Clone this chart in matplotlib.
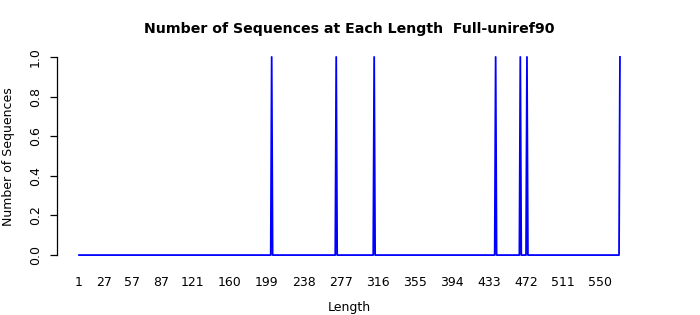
import numpy as np
import matplotlib
matplotlib.use("Agg")
import matplotlib.pyplot as plt

# data: one sequence at each of these lengths
spike_lengths = [204, 272, 312, 440, 466, 473, 571]
max_length = 571
tick_labels = [1, 27, 57, 87, 121, 160, 199, 238, 277, 316, 355, 394, 433, 472, 511, 550]
y_ticks = [0.0, 0.2, 0.4, 0.6, 0.8, 1.0]

lengths = np.arange(1, max_length + 1)
counts = np.zeros(len(lengths))
counts[np.array(spike_lengths) - 1] = 1

fig = plt.figure(figsize=(7.0, 3.15), dpi=100)
ax = fig.add_axes([57.4 / 700, 1 - 263 / 315, (641.6 - 57.4) / 700, (263 - 49) / 315])

ax.plot(lengths, counts, color="#0000ff", lw=1.3)

# R-style padding of 4% each side
pad_x = 0.04 * (max_length - 1)
ax.set_xlim(1 - pad_x, max_length + pad_x)
ax.set_ylim(-0.04, 1.04)

for s in ["top", "right", "bottom"]:
    ax.spines[s].set_visible(False)
ax.spines["left"].set_bounds(0, 1)
ax.spines["left"].set_linewidth(0.9)

ax.set_yticks(y_ticks)
ax.set_yticklabels([f"{v:.1f}" for v in y_ticks], rotation=90, va="center", fontsize=9)
ax.tick_params(axis="y", length=5, width=0.9, pad=6)

ax.set_xticks(tick_labels)
ax.set_xticklabels([str(v) for v in tick_labels], fontsize=9)
ax.tick_params(axis="x", length=0, pad=9)

fig.text(349.5 / 700, 1 - 29 / 315, "Number of Sequences at Each Length  Full-uniref90",
         ha="center", va="center", fontsize=10.2, fontweight="bold")
fig.text(349.5 / 700, 1 - 307 / 315, "Length", ha="center", va="center", fontsize=9)
fig.text(9 / 700, 1 - 157 / 315, "Number of Sequences", ha="center", va="center",
         rotation=90, fontsize=9)

fig.savefig("out.png", dpi=100)
